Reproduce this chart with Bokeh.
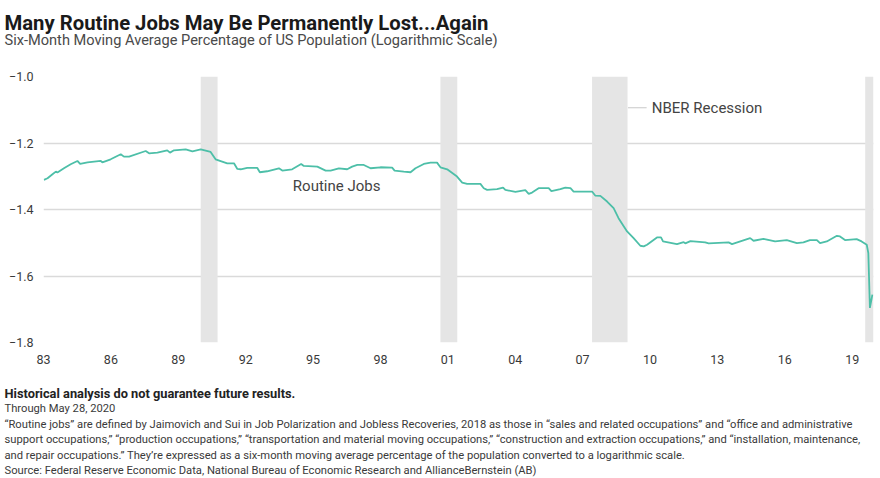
from bokeh.plotting import figure
from bokeh.models import Range1d, FixedTicker, ColumnDataSource, Label
from bokeh.layouts import column
from bokeh.embed import file_html
from bokeh.resources import INLINE
from bokeh.core.properties import value

# ---------------- data ----------------
years = [1983.52, 1983.68, 1983.90, 1984.05, 1984.12, 1984.41, 1984.71, 1985.01, 1985.13, 1985.46,
         1986.05, 1986.12, 1986.49, 1986.94, 1987.08, 1987.31, 1988.05, 1988.20, 1988.57, 1989.01,
         1989.13, 1989.31, 1989.83, 1990.13, 1990.50, 1990.94, 1991.16, 1991.68, 1991.98, 1992.13,
         1992.28, 1992.57, 1993.02, 1993.13, 1993.46, 1993.98, 1994.13, 1994.57, 1994.97, 1995.09,
         1995.69, 1996.06, 1996.28, 1996.65, 1997.02, 1997.24, 1997.47, 1997.76, 1998.06, 1998.50,
         1999.02, 1999.13, 1999.54, 1999.84, 2000.06, 2000.43, 2000.73, 2001.02, 2001.17, 2001.47,
         2001.91, 2002.14, 2002.36, 2002.95, 2003.10, 2003.25, 2003.69, 2003.96, 2004.06, 2004.51,
         2004.95, 2005.10, 2005.25, 2005.54, 2005.99, 2006.11, 2006.51, 2006.73, 2006.96, 2007.10,
         2007.92, 2008.06, 2008.29, 2008.59, 2008.88, 2009.10, 2009.48, 2009.77, 2010.07, 2010.22,
         2010.37, 2010.81, 2010.99, 2011.08, 2011.70, 2012.00, 2012.07, 2012.30, 2012.96, 2013.11,
         2014.00, 2014.15, 2014.96, 2015.11, 2015.55, 2016.07, 2016.59, 2017.04, 2017.33, 2017.62,
         2017.93, 2018.07, 2018.37, 2018.82, 2018.96, 2019.18, 2019.70, 2019.92, 2020.15, 2020.22,
         2020.29, 2020.40]
routine_jobs = [-1.311, -1.306, -1.294, -1.286, -1.289, -1.276, -1.264, -1.254, -1.263, -1.258,
                -1.254, -1.258, -1.249, -1.234, -1.241, -1.241, -1.224, -1.231, -1.229, -1.222,
                -1.229, -1.222, -1.219, -1.225, -1.219, -1.227, -1.249, -1.261, -1.261, -1.278,
                -1.279, -1.275, -1.275, -1.288, -1.285, -1.276, -1.283, -1.279, -1.263, -1.269,
                -1.271, -1.283, -1.283, -1.276, -1.279, -1.271, -1.266, -1.266, -1.276, -1.273,
                -1.274, -1.283, -1.286, -1.288, -1.276, -1.263, -1.259, -1.259, -1.273, -1.279,
                -1.301, -1.319, -1.323, -1.323, -1.336, -1.341, -1.339, -1.334, -1.341, -1.347,
                -1.342, -1.353, -1.349, -1.336, -1.336, -1.345, -1.339, -1.334, -1.336, -1.346,
                -1.346, -1.358, -1.359, -1.376, -1.396, -1.426, -1.466, -1.486, -1.509, -1.511,
                -1.506, -1.484, -1.484, -1.496, -1.504, -1.498, -1.502, -1.495, -1.499, -1.502,
                -1.499, -1.504, -1.486, -1.494, -1.488, -1.496, -1.492, -1.501, -1.499, -1.492,
                -1.492, -1.501, -1.496, -1.479, -1.481, -1.492, -1.489, -1.496, -1.506, -1.531,
                -1.696, -1.656]

recession_start = [1990.50, 2001.17, 2007.92, 2020.08]
recession_end = [1991.25, 2001.92, 2009.50, 2020.45]

x_tick_years = [1983, 1986, 1989, 1992, 1995, 1998, 2001, 2004, 2007, 2010, 2013, 2016, 2019]
x_tick_labels = ["83", "86", "89", "92", "95", "98", "01", "04", "07", "10", "13", "16", "19"]
y_ticks = [-1.8, -1.6, -1.4, -1.2, -1.0]
y_tick_labels = ["\u22121.8", "\u22121.6", "\u22121.4", "\u22121.2", "\u22121.0"]

title = "Many Routine Jobs May Be Permanently Lost...Again"
subtitle = "Six-Month Moving Average Percentage of US Population (Logarithmic Scale)"
footnotes = [
    "Historical analysis do not guarantee future results.",
    "Through May 28, 2020",
    "\u201cRoutine jobs\u201d are defined by Jaimovich and Sui in Job Polarization and Jobless Recoveries, 2018 as those in \u201csales and related occupations\u201d and \u201coffice and administrative",
    "support occupations,\u201d \u201cproduction occupations,\u201d \u201ctransportation and material moving occupations,\u201d \u201cconstruction and extraction occupations,\u201d and \u201cinstallation, maintenance,",
    "and repair occupations.\u201d They\u2019re expressed as a six-month moving average percentage of the population converted to a logarithmic scale.",
    "Source: Federal Reserve Economic Data, National Bureau of Economic Research and AllianceBernstein (AB)",
]

# ---------------- style ----------------
W = 880
H_HEAD, H_MAIN, H_FOOT = 64, 316, 98
FONT = "Roboto"
LINE_COLOR = "#4dbfa8"
SHADE = "#e5e5e5"
GRID = "#dadada"
TEXT = "#3a3a3a"


def blank(height):
    f = figure(width=W, height=height, x_range=Range1d(0, W), y_range=Range1d(height, 0),
               x_axis_type=None, y_axis_type=None, output_backend="svg", toolbar_location=None,
               min_border=0, outline_line_color=None, frame_align=False)
    f.grid.visible = False
    return f


# header
header = blank(H_HEAD)
header.text(x=[4], y=[22], text=[title], text_font=value(FONT), text_font_style="bold",
            text_font_size="20.3px", text_color="#1a1a1a", text_baseline="alphabetic")
header.text(x=[4], y=[39.5], text=[subtitle], text_font=value(FONT), text_font_size="14.6px",
            text_color="#4a4a4a", text_baseline="alphabetic")

# main chart
p = figure(width=W, height=H_MAIN, x_range=Range1d(1983.5, 2020.45), y_range=Range1d(-1.8, -1.0),
           output_backend="svg", toolbar_location=None, outline_line_color=None, frame_align=False,
           min_border_top=12, min_border_left=43, min_border_right=7, min_border_bottom=38)

src = ColumnDataSource(dict(left=recession_start, right=recession_end))
p.quad(left="left", right="right", bottom=-1.8, top=-1.0, source=src,
       fill_color=SHADE, line_color=None)
p.line(years, routine_jobs, line_color=LINE_COLOR, line_width=1.8)

p.xgrid.visible = False
p.ygrid.grid_line_color = GRID
p.ygrid.grid_line_width = 1.5
p.ygrid.ticker = FixedTicker(ticks=y_ticks)

xt = [y + 0.5 for y in x_tick_years]
p.xaxis.ticker = FixedTicker(ticks=xt)
p.xaxis.major_label_overrides = {t: l for t, l in zip(xt, x_tick_labels)}
p.yaxis.ticker = FixedTicker(ticks=y_ticks)
p.yaxis.major_label_overrides = {t: l for t, l in zip(y_ticks, y_tick_labels)}
for ax in (p.xaxis[0], p.yaxis[0]):
    ax.axis_line_color = None
    ax.major_tick_line_color = None
    ax.minor_tick_line_color = None
    ax.major_tick_out = 0
    ax.major_tick_in = 0
    ax.major_label_text_font = FONT
    ax.major_label_text_font_size = "12.5px"
    ax.major_label_text_color = TEXT
p.xaxis.major_label_standoff = 12
p.yaxis.major_label_standoff = 10

# in-chart labels
p.add_layout(Label(x=1994.6, y=-1.33, text="Routine Jobs", text_font=FONT, text_font_size="15px",
                   text_color="#444444", text_baseline="middle"))
p.segment(x0=[2009.52], y0=[-1.094], x1=[2010.35], y1=[-1.094], line_color="#c8c8c8", line_width=1.2)
p.add_layout(Label(x=2010.58, y=-1.094, text="NBER Recession", text_font=FONT, text_font_size="15px",
                   text_color="#444444", text_baseline="middle"))

# footer
footer = blank(H_FOOT)
for i, line in enumerate(footnotes):
    footer.text(x=[4], y=[12.5 + 15.5 * i], text=[line], text_font=value(FONT),
                text_font_style="bold" if i == 0 else "normal",
                text_font_size="12.8px" if i == 0 else "11.2px",
                text_color="#222222" if i == 0 else TEXT, text_baseline="middle")

layout = column(header, p, footer, spacing=0)
open("out.html", "w").write(file_html(layout, INLINE))
